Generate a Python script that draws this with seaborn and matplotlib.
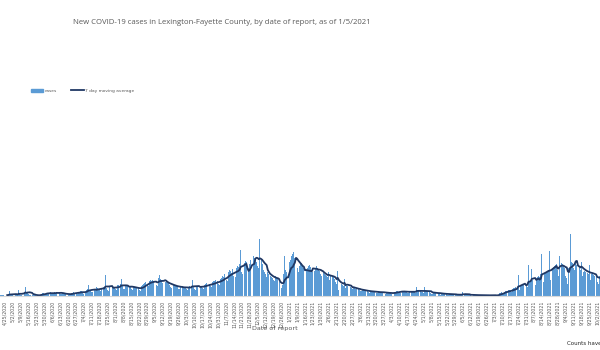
import matplotlib
matplotlib.use("Agg")
import matplotlib.pyplot as plt
import seaborn as sns
import pandas as pd
from matplotlib.patches import Patch
from matplotlib.lines import Line2D

# daily new cases, 4/21/2020 .. 10/4/2021
apr20 = [6, 8, 5, 4, 3, 2, 7, 9, 25, 8]
may20 = [9, 6, 4, 8, 10, 12, 30, 9, 7, 5, 14, 18, 45, 16, 20, 12, 8, 6, 7, 5, 4, 6, 3, 2, 3, 8, 12, 14, 16, 10, 8]
jun20 = [18, 16, 14, 20, 15, 10, 9, 19, 18, 22, 17, 16, 12, 10, 14, 12, 11, 9, 10, 8, 6, 13, 15, 18, 20, 17, 14, 12, 22, 20]
jul20 = [24, 26, 20, 12, 15, 30, 34, 55, 32, 28, 22, 20, 36, 38, 45, 40, 35, 30, 28, 42, 48, 44, 105, 40, 30, 28, 48, 52, 50, 45, 42]
aug20 = [35, 30, 55, 58, 62, 85, 50, 36, 34, 52, 56, 54, 50, 48, 38, 32, 46, 48, 44, 42, 40, 30, 28, 50, 58, 62, 66, 70, 55, 52, 78]
sep20 = [80, 75, 82, 78, 60, 55, 50, 90, 105, 88, 80, 65, 58, 72, 70, 66, 64, 58, 48, 40, 55, 58, 52, 50, 46, 38, 34, 48, 50, 45]
oct20 = [46, 44, 35, 30, 48, 52, 50, 80, 45, 38, 32, 50, 52, 55, 50, 48, 40, 36, 58, 62, 66, 64, 60, 50, 44, 70, 74, 78, 80, 75, 62]
nov20 = [55, 85, 92, 100, 96, 110, 80, 75, 120, 130, 125, 118, 135, 100, 95, 140, 150, 145, 160, 230, 120, 110, 165, 175, 170, 0, 140, 160, 180, 258]
dec20 = [200, 190, 185, 170, 150, 140, 288, 180, 160, 130, 120, 110, 95, 120, 110, 100, 95, 90, 80, 75, 100, 95, 90, 70, 0, 40, 55, 110, 200, 130, 120]
jan21 = [0, 170, 180, 200, 210, 220, 190, 170, 140, 120, 150, 160, 165, 150, 140, 20, 130, 140, 150, 155, 145, 130, 120, 125, 135, 150, 140, 130, 125, 110, 100]
feb21 = [115, 110, 108, 100, 95, 120, 80, 105, 100, 95, 85, 70, 60, 125, 30, 55, 60, 58, 50, 88, 40, 50, 52, 48, 45, 42, 35, 40]
mar21 = [40, 38, 36, 35, 30, 28, 25, 32, 30, 28, 27, 25, 20, 18, 26, 25, 24, 22, 20, 16, 15, 24, 22, 20, 21, 18, 14, 12, 18, 17, 16]
apr21 = [18, 15, 12, 10, 20, 22, 24, 25, 23, 20, 18, 26, 25, 24, 22, 20, 18, 16, 25, 26, 24, 22, 20, 18, 45, 28, 26, 24, 22, 20]
may21 = [18, 45, 25, 24, 22, 20, 18, 12, 10, 20, 18, 17, 16, 14, 10, 8, 14, 13, 12, 12, 10, 8, 6, 12, 11, 10, 9, 8, 6, 5, 4]
jun21 = [8, 10, 9, 8, 20, 5, 9, 8, 7, 7, 6, 4, 3, 7, 6, 6, 5, 5, 3, 2, 6, 5, 5, 4, 4, 3, 2, 5, 5, 6]
jul21 = [5, 4, 3, 2, 1, 8, 15, 18, 20, 16, 12, 22, 25, 28, 30, 32, 26, 20, 35, 40, 42, 45, 48, 105, 30, 55, 58, 60, 62, 65, 50]
aug21 = [45, 155, 70, 75, 138, 80, 60, 55, 90, 95, 100, 98, 110, 213, 70, 110, 115, 120, 125, 130, 225, 80, 140, 145, 150, 155, 160, 130, 100, 200, 165]
sep21 = [160, 150, 140, 100, 90, 60, 140, 313, 170, 165, 140, 130, 160, 155, 150, 140, 130, 170, 100, 120, 125, 120, 115, 110, 155, 80, 110, 115, 105, 100]
oct21 = [95, 70, 60, 100]

cases = (apr20 + may20 + jun20 + jul20 + aug20 + sep20 + oct20 + nov20 + dec20
         + jan21 + feb21 + mar21 + apr21 + may21 + jun21 + jul21 + aug21 + sep21 + oct21)
dates = pd.date_range("2020-04-21", periods=len(cases), freq="D")

df = pd.DataFrame({"date": dates, "cases": cases})
df["day"] = range(len(df))
df["avg"] = df["cases"].rolling(7).mean()

bar_color = "#5B9BD5"
line_color = "#203864"
grey = "#595959"

fig = plt.figure(figsize=(6, 3.5), dpi=100)
ax = fig.add_axes([0.0, 0.154, 1.0, 0.531])

sns.barplot(data=df, x="day", y="cases", native_scale=True, color=bar_color,
            saturation=1, width=0.85, linewidth=0, ax=ax)
sns.lineplot(data=df, x="day", y="avg", color=line_color, linewidth=1.3, ax=ax)

ax.set_xlim(-0.4, 531.5)
ax.set_ylim(0, 930)

# weekly tick labels starting 4/25/2020
tick_dates = pd.date_range("2020-04-25", "2021-10-04", freq="7D")
tick_pos = [(d - dates[0]).days for d in tick_dates]
ax.set_xticks(tick_pos)
ax.set_xticklabels([f"{d.month}/{d.day}/{d.year}" for d in tick_dates],
                   rotation=90, fontsize=3.4, color=grey)
ax.tick_params(axis="x", length=0, pad=3)
ax.set_yticks([])
ax.set_xlabel("")
ax.set_ylabel("")
for s in ["top", "right", "left"]:
    ax.spines[s].set_visible(False)
ax.spines["bottom"].set_color("#D9D9D9")
ax.spines["bottom"].set_linewidth(0.8)

fig.text(0.37, 0.937, "New COVID-19 cases in Lexington-Fayette County, by date of report, as of 1/5/2021",
         ha="center", va="center", fontsize=5.6, color=grey, family="Open Sans")
fig.text(0.458, 0.062, "Date of report", ha="center", va="center", fontsize=4.6, color=grey)
fig.text(0.945, 0.018, "Counts have b", ha="left", va="center", fontsize=4.0, color="#262626")

handles = [Patch(color=bar_color, label="cases"),
           Line2D([0], [0], color=line_color, linewidth=1.3, label="7 day moving average")]
fig.legend(handles=handles, loc="center left", bbox_to_anchor=(0.045, 0.74), ncol=2,
           frameon=False, fontsize=3.2, handlelength=2.8, handleheight=0.7,
           columnspacing=3.2, handletextpad=0.3, labelcolor=grey)

fig.savefig("out.png", dpi=100)
